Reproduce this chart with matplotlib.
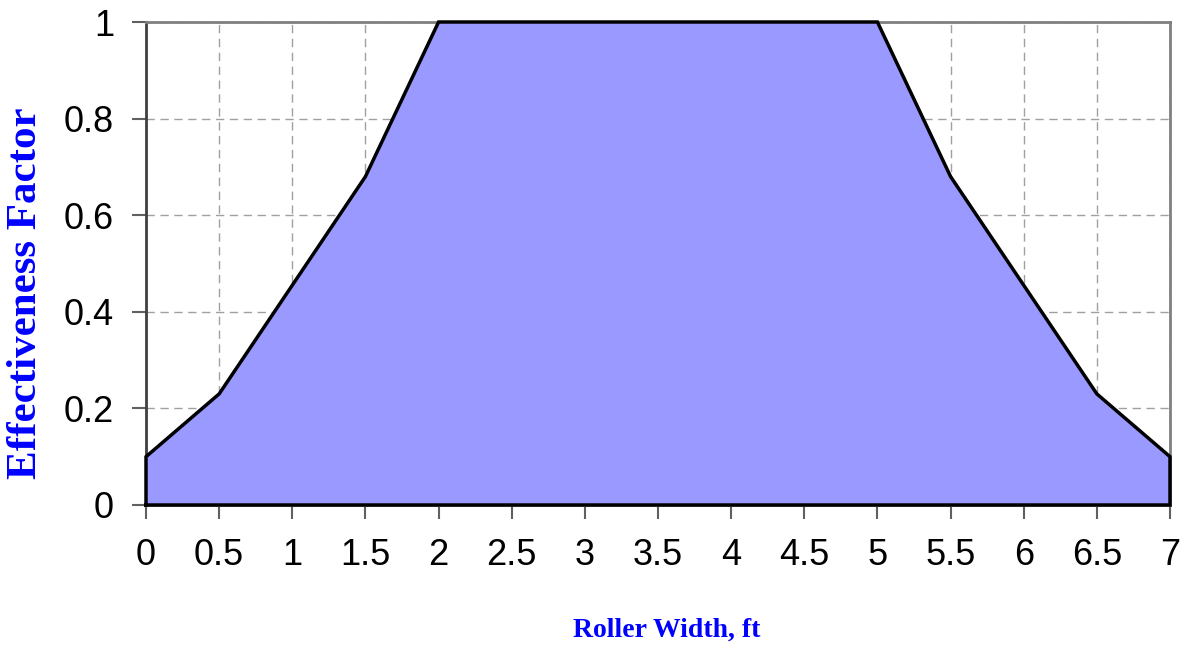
import matplotlib
matplotlib.use("Agg")
import matplotlib.pyplot as plt
import numpy as np

roller_width = [0, 0.5, 1, 1.5, 2, 2.5, 3, 3.5, 4, 4.5, 5, 5.5, 6, 6.5, 7]
effectiveness = [0.1, 0.23, 0.455, 0.68, 1, 1, 1, 1, 1, 1, 1, 0.68, 0.455, 0.23, 0.1]
x_ticks = [0, 0.5, 1, 1.5, 2, 2.5, 3, 3.5, 4, 4.5, 5, 5.5, 6, 6.5, 7]
x_ticklabels = ["0", "0.5", "1", "1.5", "2", "2.5", "3", "3.5", "4", "4.5", "5", "5.5", "6", "6.5", "7"]
y_ticks = [0, 0.2, 0.4, 0.6, 0.8, 1]
y_ticklabels = ["0", "0.2", "0.4", "0.6", "0.8", "1"]

fig = plt.figure(figsize=(11.83, 6.46), dpi=100)
ax = fig.add_axes([146/1183, 1 - 505/646, (1170-146)/1183, (505-22)/646])

xs = np.array(roller_width)
ys = np.array(effectiveness)
ax.fill_between(xs, 0, ys, facecolor="#9999FF", edgecolor="none", zorder=2)
poly_x = np.concatenate([[xs[0]], xs, [xs[-1], xs[0]]])
poly_y = np.concatenate([[0], ys, [0, 0]])
ax.plot(poly_x, poly_y, color="black", lw=2.5, zorder=3, solid_joinstyle="miter", clip_on=False)

ax.set_xlim(0, 7)
ax.set_ylim(0, 1)
ax.set_xticks(x_ticks)
ax.set_xticklabels(x_ticklabels)
ax.set_yticks(y_ticks)
ax.set_yticklabels(y_ticklabels)

ax.grid(True, color="#A0A0A0", linestyle=(0, (6, 4)), linewidth=1.0, zorder=1)
ax.set_axisbelow(True)

for s in ax.spines.values():
    s.set_color("#808080")
    s.set_linewidth(2)
    s.set_zorder(1.5)
ax.spines["left"].set_color("#404040")

ax.tick_params(axis="both", direction="out", length=10, width=1.5, color="#606060",
               labelsize=26, labelcolor="black")
ax.tick_params(axis="x", pad=14)
ax.tick_params(axis="y", pad=13)
for lab in ax.get_xticklabels() + ax.get_yticklabels():
    lab.set_fontfamily("Liberation Sans")

fig.text(667/1183, 1 - 630/646, "Roller Width, ft", fontfamily="Liberation Serif",
         fontweight="bold", fontsize=20, color="#0000FF", ha="center", va="center")
fig.text(26/1183, 1 - 293/646, "Effectiveness Factor", fontfamily="Liberation Serif",
         fontweight="bold", fontsize=31, color="#0000FF", ha="center", va="center",
         rotation=90)

fig.savefig("out.png", dpi=100)
